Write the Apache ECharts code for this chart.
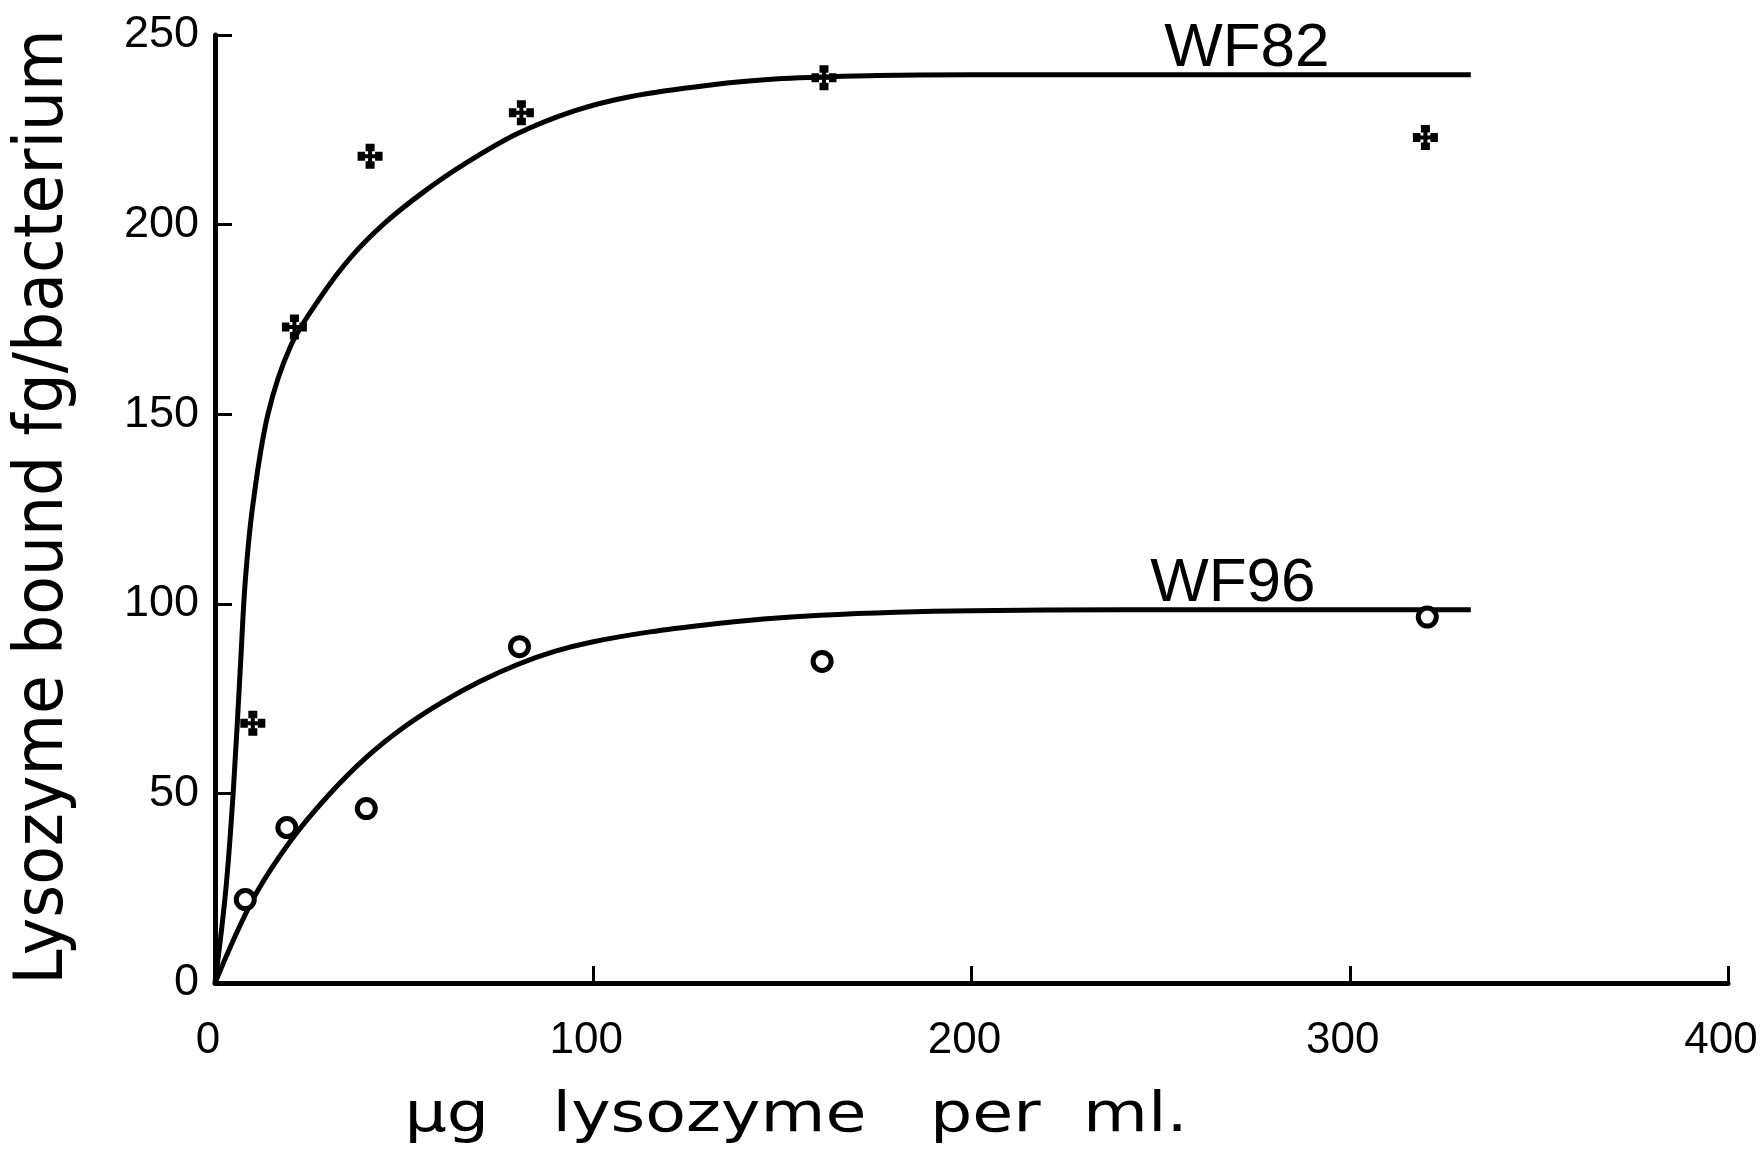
<!DOCTYPE html>
<html>
<head>
<meta charset="utf-8">
<title>Lysozyme binding</title>
<script src="https://cdn.jsdelivr.net/npm/echarts@6/dist/echarts.min.js"></script>
<style>
  html, body { margin: 0; padding: 0; background: #ffffff; }
  #chart { width: 1764px; height: 1152px; }
</style>
</head>
<body>
<div id="chart"></div>
<script>
// Measured binding: lysozyme offered (µg/ml) vs lysozyme bound (fg per bacterium)
const concWF82  = [10, 21, 41, 81, 161, 320];
const boundWF82 = [68.5, 173, 218, 229.5, 238.7, 223];
const concWF96  = [8, 19, 40, 80.5, 160.5, 320.5];
const boundWF96 = [22, 41, 46, 88.7, 84.8, 96.5];

// Hand-drawn saturation curves through each strain's points
const fitWF82X = [0, 2.8, 4.8, 6.8, 8, 10, 14, 20, 28, 36, 45, 55, 66, 80, 95, 110, 130, 150, 175, 200, 332];
const fitWF82Y = [0, 24, 50, 85, 106, 126, 150, 168, 181, 191.5, 200.5, 208.5, 216, 224, 230, 233.8, 236.7, 238.5, 239.3, 239.5, 239.5];
const fitWF96X = [0, 10, 20, 30, 40, 50, 60, 70, 80, 90, 100, 115, 130, 145, 160, 180, 200, 240, 332];
const fitWF96Y = [0, 22, 37.5, 49.5, 59.5, 67.5, 74, 79.5, 84, 87.5, 90, 92.6, 94.5, 96, 97, 97.8, 98.2, 98.4, 98.4];

const strainNames = ['WF82', 'WF96'];

// Axis ranges and tick steps
const xRange = [0, 400];
const xStep = 100;
const yRange = [0, 250];
const yStep = 50;

const xTitle = 'µg   lysozyme   per  ml.';
const yTitle = 'Lysozyme bound fg/bacterium';

const pairs = (xs, ys) => xs.map((x, i) => [x, ys[i]]);

const numberFont = '"Liberation Sans", Arial, sans-serif';
const titleFont = '"DejaVu Sans", Verdana, sans-serif';
const ink = '#000000';

// four-armed cross with heavy tips, used for the WF82 points
const crossSymbol = 'path://M3.2,0 H6.8 V3 H5.8 V4.2 H7 V3.2 H10 V6.8 H7 V5.8 H5.8 V7 H6.8 V10 H3.2 V7 H4.2 V5.8 H3 V6.8 H0 V3.2 H3 V4.2 H4.2 V3 H3.2 Z';

function curveSeries(name, xs, ys, labelAt) {
  return {
    name: name,
    type: 'line',
    data: pairs(xs, ys),
    showSymbol: false,
    smooth: 0.35,
    lineStyle: { color: ink, width: 5 },
    z: 2,
    silent: true,
    markPoint: {
      symbol: 'circle',
      symbolSize: 0,
      silent: true,
      itemStyle: { color: 'rgba(0,0,0,0)' },
      label: {
        show: true,
        position: 'top',
        distance: -5,
        formatter: name,
        color: ink,
        fontFamily: numberFont,
        fontSize: 62
      },
      data: [{ coord: labelAt }]
    }
  };
}

const chart = echarts.init(document.getElementById('chart'), null, { renderer: 'canvas' });

chart.setOption({
  animation: false,
  backgroundColor: '#ffffff',
  grid: { left: 215, right: 36, top: 35, bottom: 169, containLabel: false },
  xAxis: {
    type: 'value',
    min: xRange[0],
    max: xRange[1],
    interval: xStep,
    axisLine: { lineStyle: { color: ink, width: 5 } },
    axisTick: { inside: true, length: 17, lineStyle: { color: ink, width: 3 } },
    splitLine: { show: false },
    axisLabel: { color: ink, fontFamily: numberFont, fontSize: 44, margin: 36, padding: [0, 14, 0, 0] }
  },
  yAxis: {
    type: 'value',
    min: yRange[0],
    max: yRange[1],
    interval: yStep,
    axisLine: { lineStyle: { color: ink, width: 5 } },
    axisTick: { inside: true, length: 17, lineStyle: { color: ink, width: 3 } },
    splitLine: { show: false },
    axisLabel: { color: ink, fontFamily: numberFont, fontSize: 45, margin: 16 }
  },
  graphic: [
    {
      type: 'text',
      x: 44,
      y: 507,
      rotation: Math.PI / 2,
      scaleX: 0.93,
      silent: true,
      style: {
        text: yTitle,
        fill: ink,
        font: '68px ' + titleFont,
        align: 'center',
        verticalAlign: 'middle',
        textAlign: 'center',
        textVerticalAlign: 'middle'
      }
    },
    {
      type: 'text',
      x: 796,
      y: 1116,
      scaleX: 1.19,
      silent: true,
      style: {
        text: xTitle,
        fill: ink,
        font: '56px ' + titleFont,
        align: 'center',
        verticalAlign: 'middle',
        textAlign: 'center',
        textVerticalAlign: 'middle'
      }
    }
  ],
  series: [
    curveSeries(strainNames[0], fitWF82X, fitWF82Y, [272.8, 239.5]),
    curveSeries(strainNames[1], fitWF96X, fitWF96Y, [269.1, 98.4]),
    {
      name: strainNames[0] + ' points',
      type: 'scatter',
      data: pairs(concWF82, boundWF82),
      symbol: crossSymbol,
      symbolSize: 25,
      itemStyle: { color: ink, opacity: 1 },
      z: 3,
      silent: true
    },
    {
      name: strainNames[1] + ' points',
      type: 'scatter',
      data: pairs(concWF96, boundWF96),
      symbol: 'circle',
      symbolSize: 18,
      itemStyle: { color: '#ffffff', borderColor: ink, borderWidth: 5, opacity: 1 },
      z: 3,
      silent: true
    }
  ]
});
</script>
</body>
</html>
